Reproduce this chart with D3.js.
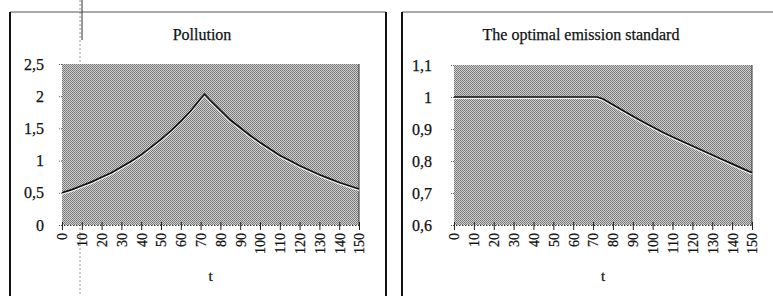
<!DOCTYPE html>
<meta charset="utf-8">
<script src="https://d3js.org/d3.v7.min.js"></script>
<style>
  body { margin: 0; background: #fff; }
  text { font-family: "Liberation Serif", "Times New Roman", serif; fill: #111; stroke: #111; stroke-width: 0.25px; }
</style>
<div id="my_dataviz"></div>
<script>

    // data
    var tPollution = [0, 5, 10, 15, 20, 25, 30, 35, 40, 45, 50, 55, 60, 65, 70, 72,
                      75, 80, 85, 90, 95, 100, 105, 110, 115, 120, 125, 130, 135, 140, 145, 150];
    var pollution  = [0.50, 0.55, 0.61, 0.67, 0.74, 0.81, 0.90, 0.99, 1.09, 1.21, 1.33, 1.46, 1.61, 1.77, 1.96, 2.03,
                      1.93, 1.78, 1.63, 1.51, 1.39, 1.28, 1.18, 1.08, 1.00, 0.92, 0.85, 0.78, 0.72, 0.66, 0.61, 0.56];

    var tEmission = [0, 72, 75, 80, 85, 90, 95, 100, 105, 110, 115, 120, 125, 130, 135, 140, 145, 150];
    var emission  = [1.0, 1.0, 0.994, 0.976, 0.958, 0.940, 0.923, 0.906, 0.890, 0.875, 0.861, 0.847, 0.833, 0.819, 0.805, 0.791, 0.777, 0.763];

    var xTicks = [0, 10, 20, 30, 40, 50, 60, 70, 80, 90, 100, 110, 120, 130, 140, 150];
    var yTicksPollution = [0, 0.5, 1, 1.5, 2, 2.5];
    var yTicksEmission = [0.6, 0.7, 0.8, 0.9, 1, 1.1];

    var titles = ["Pollution", "The optimal emission standard"];

    var locale = d3.formatLocale({decimal: ",", thousands: " ", grouping: [3], currency: ["", ""]});
    var fmt = locale.format("~g");

    var svg = d3.select("#my_dataviz")
      .append("svg")
        .attr("width", 773)
        .attr("height", 296);

    // halftone-ish background for the plot areas
    var pat = svg.append("defs").append("pattern")
        .attr("id", "halftone")
        .attr("width", 2).attr("height", 2)
        .attr("patternUnits", "userSpaceOnUse");
    pat.append("rect").attr("width", 2).attr("height", 2).attr("fill", "#cfcfcf");
    pat.append("rect").attr("width", 1).attr("height", 1).attr("fill", "#777");
    pat.append("rect").attr("x", 1).attr("y", 1).attr("width", 1).attr("height", 1).attr("fill", "#7f7f7f");

    // panel frames
    svg.append("line").attr("x1", 10).attr("x2", 386).attr("y1", 12).attr("y2", 12)
      .attr("stroke", "#555").attr("stroke-width", 1);
    svg.append("line").attr("x1", 10).attr("x2", 10).attr("y1", 12).attr("y2", 296)
      .attr("stroke", "#111").attr("stroke-width", 2);
    svg.append("line").attr("x1", 386).attr("x2", 386).attr("y1", 12).attr("y2", 296)
      .attr("stroke", "#111").attr("stroke-width", 2);
    svg.append("line").attr("x1", 402).attr("x2", 773).attr("y1", 12).attr("y2", 12)
      .attr("stroke", "#555").attr("stroke-width", 1);
    svg.append("line").attr("x1", 402).attr("x2", 402).attr("y1", 12).attr("y2", 296)
      .attr("stroke", "#111").attr("stroke-width", 2);

    // scan fold line
    svg.append("line").attr("x1", 80).attr("x2", 80).attr("y1", 0).attr("y2", 296)
      .attr("stroke", "#777").attr("stroke-width", 0.8).attr("stroke-dasharray", "2,2");
    svg.append("line").attr("x1", 82).attr("x2", 82).attr("y1", 0).attr("y2", 40)
      .attr("stroke", "#333").attr("stroke-width", 1);

    function drawPanel(opt) {
      var g = svg.append("g");

      var x = d3.scaleLinear().domain([0, 150]).range([opt.left, opt.right]);
      var y = d3.scaleLinear().domain(opt.yDomain).range([opt.bottom, opt.top]);

      g.append("rect")
        .attr("x", opt.left).attr("y", opt.top)
        .attr("width", opt.right - opt.left).attr("height", opt.bottom - opt.top)
        .attr("fill", "url(#halftone)");

      g.append("line")
        .attr("x1", opt.right).attr("x2", opt.right)
        .attr("y1", opt.top).attr("y2", opt.bottom)
        .attr("stroke", "#333").attr("stroke-width", 1);

      // x axis
      var xAxis = g.append("g")
        .attr("transform", "translate(0," + opt.bottom + ")")
        .call(d3.axisBottom(x).tickValues(xTicks).tickSize(5).tickPadding(6).tickFormat(d3.format("d")));
      xAxis.select(".domain").attr("stroke", "#333").attr("stroke-dasharray", "1.5,1.5");
      xAxis.selectAll(".tick line").attr("stroke", "#222").attr("y1", -3);
      xAxis.selectAll(".tick text")
        .attr("transform", "rotate(-90)")
        .attr("text-anchor", "end")
        .attr("x", -8).attr("y", 0).attr("dy", "0.35em")
        .style("font-size", "14px")
        .style("font-family", "Liberation Serif, serif")
        .attr("fill", "#111");

      // y axis
      var yAxis = g.append("g")
        .attr("transform", "translate(" + opt.left + ",0)")
        .call(d3.axisLeft(y).tickValues(opt.yTicks).tickSize(4).tickPadding(opt.labelGap).tickFormat(fmt));
      yAxis.select(".domain").remove();
      yAxis.selectAll(".tick line").attr("stroke", "#555").attr("stroke-dasharray", "1,1");
      yAxis.selectAll(".tick text")
        .style("font-size", "16px")
        .style("font-family", "Liberation Serif, serif")
        .attr("fill", "#111");

      // the line, with a light halo under it like the original print
      var line = d3.line()
        .x(function(d) { return x(d[0]); })
        .y(function(d) { return y(d[1]); });
      var pts = opt.t.map(function(t, i) { return [t, opt.v[i]]; });

      g.append("path")
        .attr("d", line(pts))
        .attr("transform", "translate(0,1.3)")
        .attr("stroke", "#f4f4f4").attr("stroke-width", 1.6).attr("fill", "none");
      g.append("path")
        .attr("d", line(pts))
        .attr("stroke", "#111").attr("stroke-width", 1.7).attr("fill", "none");

      // titles
      g.append("text")
        .attr("x", opt.titleX).attr("y", 40)
        .attr("text-anchor", "middle")
        .style("font-size", "16px")
        .text(opt.title);

      g.append("text")
        .attr("x", (opt.left + opt.right) / 2).attr("y", 281)
        .attr("text-anchor", "middle")
        .style("font-size", "15px")
        .text("t");
    }

    drawPanel({left: 62, right: 359, top: 64, bottom: 225, yDomain: [0, 2.5], yTicks: yTicksPollution,
               labelGap: 14, t: tPollution, v: pollution, title: titles[0], titleX: 202});
    drawPanel({left: 454, right: 752, top: 65, bottom: 225, yDomain: [0.6, 1.1], yTicks: yTicksEmission,
               labelGap: 18, t: tEmission, v: emission, title: titles[1], titleX: 581});

</script>
